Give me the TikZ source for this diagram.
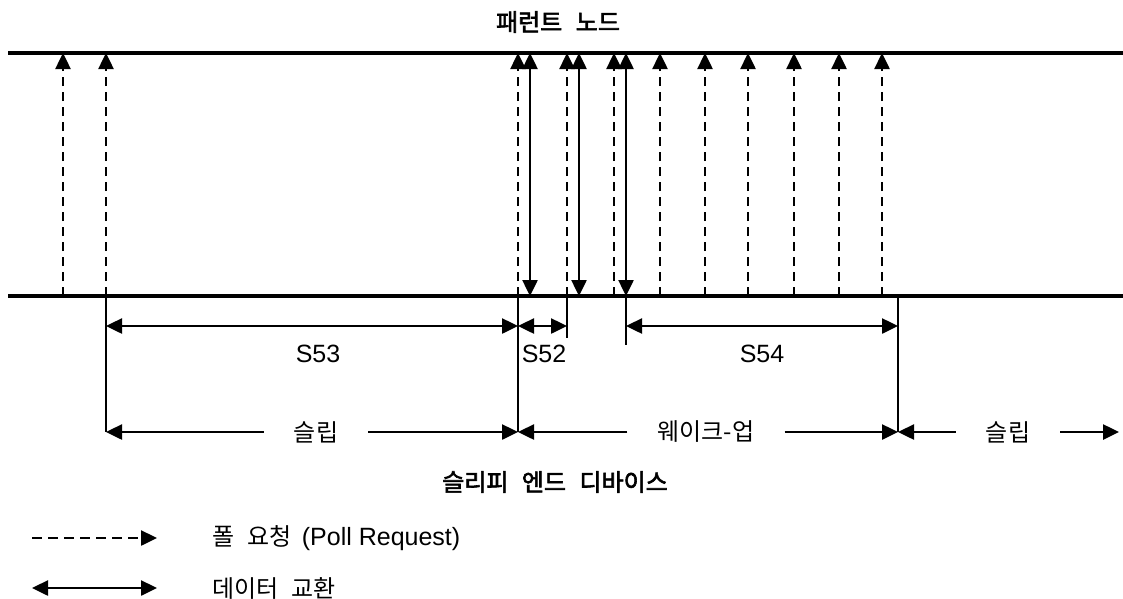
\documentclass[tikz,border=0pt]{standalone}
\usepackage{fontspec}
\setmainfont{Liberation Sans}
\newfontfamily\kr[WordSpace=2.5]{Noto Sans CJK KR}
\newfontfamily\krb[WordSpace=2.5,FakeBold=2.5]{Noto Sans CJK KR}
\usetikzlibrary{arrows.meta,positioning,calc}

\begin{document}
\begin{tikzpicture}[
  x=1pt, y=-1pt,
  font=\fontsize{25}{28}\selectfont,
  bus/.style={line width=3.5pt},
  poll/.style={line width=2.5pt, dash pattern=on 9pt off 6pt, -{Triangle[length=16pt,width=15pt]}},
  data/.style={line width=2.5pt, {Triangle[length=16pt,width=15pt]}-{Triangle[length=16pt,width=15pt]}},
  ext/.style={line width=2.5pt},
  half/.style={line width=2.5pt, -{Triangle[length=16pt,width=15pt]}},
  span/.style={inner xsep=30pt, inner ysep=0pt, font=\kr\fontsize{24}{28}\selectfont},
  title/.style={font=\krb\fontsize{24}{28}\selectfont}]

\useasboundingbox (0,0) rectangle (1123,598);

% parent node and sleepy end device lines
\coordinate (top) at (0,53);
\coordinate (bot) at (0,296);
\draw[bus] (8,0 |- top) -- (1123,0 |- top);
\draw[bus] (8,0 |- bot) -- (1123,0 |- bot);

\node[title] (parent) at (558,22) {패런트 노드};
\node[title] (device) at (555,482) {슬리피 엔드 디바이스};

% poll requests
\foreach \x in {63,106,518,567,614,660,705,748,794,839,882}
  \draw[poll] (\x,0 |- bot) -- (\x,0 |- top);

% data exchange
\foreach \x in {530,579,626}
  \draw[data] (\x,0 |- top) -- (\x,0 |- bot);

% extension lines
\coordinate (e1) at (106,296);
\coordinate (e2) at (518,296);
\coordinate (e3) at (567,296);
\coordinate (e4) at (626,296);
\coordinate (e5) at (898,296);
\coordinate (e6) at (1119,296);
\draw[ext] (e1) -- ++(0,136);
\draw[ext] (e2) -- ++(0,136);
\draw[ext] (e3) -- ++(0,42);
\draw[ext] (e4) -- ++(0,49);
\draw[ext] (e5) -- ++(0,136);

% intervals
\draw[data] (e1 |- 0,326) -- (e2 |- 0,326);
\draw[data] (e2 |- 0,326) -- (e3 |- 0,326);
\draw[data] (e4 |- 0,326) -- (e5 |- 0,326);
\node (s53) at (318,354) {S53};
\node (s52) at (544,354) {S52};
\node (s54) at (762,354) {S54};

% sleep / wake-up periods
\node[span] (slip1) at (316,432) {슬립};
\node[span] (wake) at (706,432) {웨이크-업};
\node[span] (slip2) at (1008,432) {슬립};
\draw[half] (slip1) -- (e1 |- slip1);
\draw[half] (slip1) -- (e2 |- slip1);
\draw[half] (wake) -- (e2 |- wake);
\draw[half] (wake) -- (e5 |- wake);
\draw[half] (slip2) -- (e5 |- slip2);
\draw[half] (slip2) -- (e6 |- slip2);

% legend
\coordinate (l1a) at (32,538);
\coordinate (l1b) at (157,538);
\coordinate (l2a) at (32,588);
\coordinate (l2b) at (157,588);
\draw[poll, dash pattern=on 10pt off 6pt] (l1a) -- (l1b);
\draw[data] (l2a) -- (l2b);
\node[anchor=west, inner sep=0pt] (pollkey) at (212,538) {{\kr\fontsize{24}{28}\selectfont 폴 요청}\hspace{10pt}(Poll Request)};
\node[anchor=west, inner sep=0pt, font=\kr\fontsize{24}{28}\selectfont] (datakey) at (212,588) {데이터 교환};

\end{tikzpicture}
\end{document}
